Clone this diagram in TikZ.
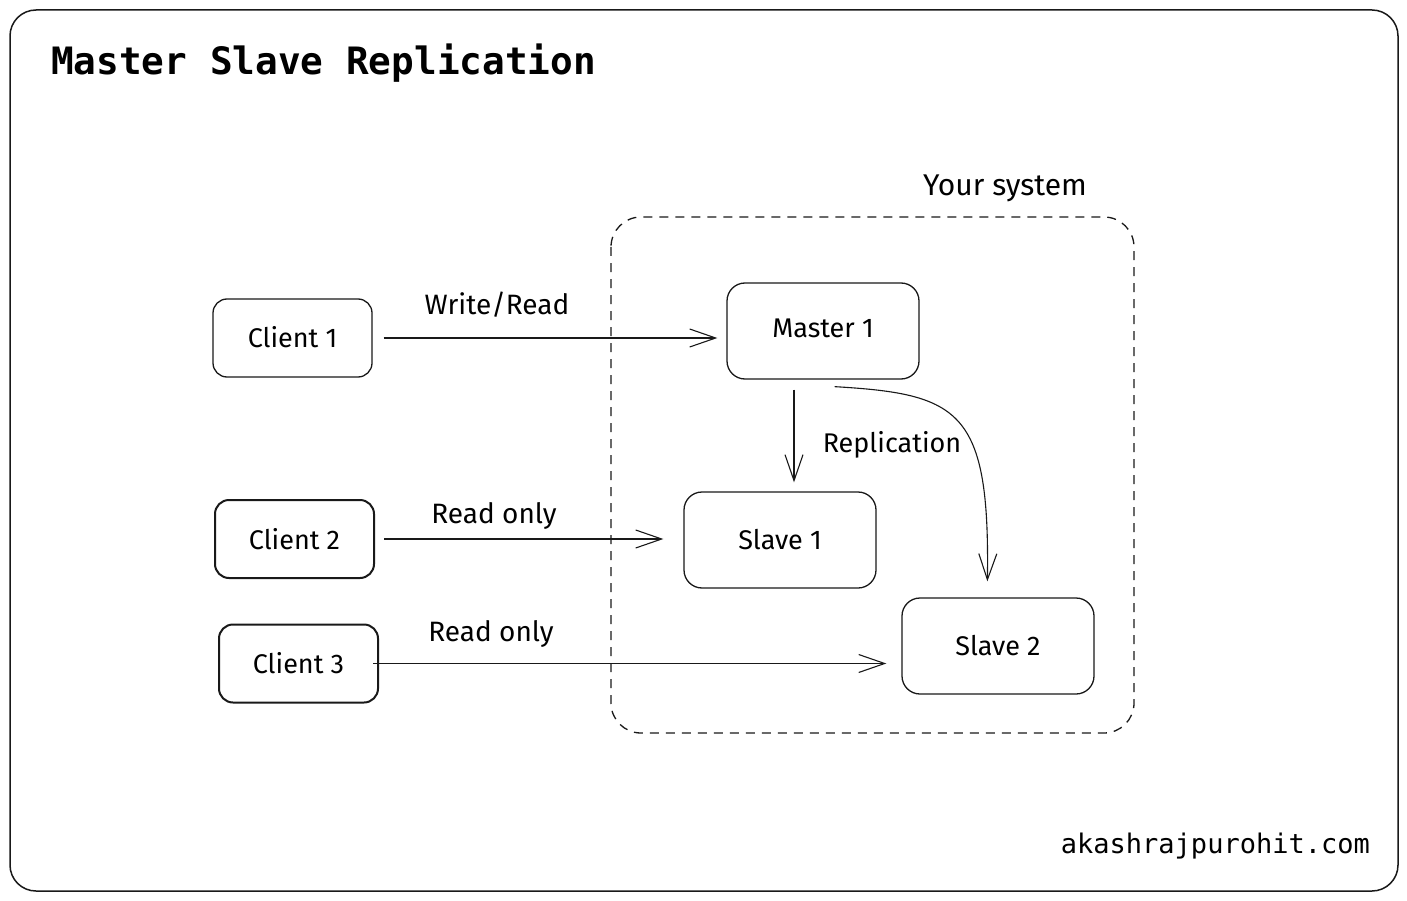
\documentclass[tikz,border=0pt]{standalone}
\usepackage{fontspec}
\setmainfont{Fira Sans}
\newfontfamily\monofont{DejaVu Sans Mono}
\usetikzlibrary{arrows.meta,calc}
\begin{document}
\begin{tikzpicture}[x=1pt,y=-1pt,
  ink/.style={draw=black!90, line width=1.3pt},
  box/.style={ink, rounded corners=14pt, minimum width=159pt, minimum height=78pt,
    inner sep=0pt, font=\fontsize{27}{30}\selectfont},
  thickbox/.style={box, line width=2pt},
  bigbox/.style={box, minimum width=192pt, minimum height=96pt, rounded corners=18pt},
  arr/.style={draw=black!90, line width=1.1pt,
    -{Straight Barb[length=26pt,width=18pt,line width=1.1pt]}},
  lbl/.style={font=\fontsize{28}{30}\selectfont, inner sep=0pt},
]
\useasboundingbox (0,0) rectangle (1407,901);

% outer frame and title
\draw[ink, line width=1.5pt, rounded corners=26pt] (10,10) rectangle (1398,891);
\node[anchor=base west, inner sep=0pt, font=\monofont\bfseries\fontsize{37.7}{40}\selectfont]
  (title) at (51,75) {Master Slave Replication};
\node[anchor=base east, inner sep=0pt, font=\monofont\fontsize{27}{30}\selectfont]
  (site) at (1370,853) {akashrajpurohit.com};

% system boundary
\draw[ink, dash pattern=on 9pt off 7pt, rounded corners=30pt] (611,217) rectangle (1134,733);
\node[lbl, font=\fontsize{30}{32}\selectfont] (sys) at (1005,188) {Your system};

% clients
\node[box] (c1) at (292.5,338) {\raisebox{2pt}{Client 1}};
\node[thickbox] (c2) at (294.5,539) {Client 2};
\node[thickbox] (c3) at (298.5,663.5) {Client 3};

% servers
\node[bigbox] (m1) at (823,331) {\raisebox{5pt}{Master 1}};
\node[bigbox] (s1) at (780,540) {\raisebox{2pt}{Slave 1}};
\node[bigbox] (s2) at (998,646) {\raisebox{2pt}{Slave 2}};

% client traffic
\draw[arr, shorten <=11pt, shorten >=9pt] (c1.east) -- (c1.east -| m1.west);
\node[lbl] (wr) at (497,305) {Write/Read};
\draw[arr, shorten <=9pt, shorten >=20pt] (c2.east) -- (c2.east -| s1.west);
\node[lbl] (ro1) at (494,516) {Read only};
\draw[arr, shorten <=-6pt, shorten >=15pt] (c3.east) -- (c3.east -| s2.west);
\node[lbl] (ro2) at (491,634) {Read only};

% replication
\coordinate (r1) at ($(m1.south west)!0.35!(m1.south east)$);
\draw[arr, shorten <=10pt, shorten >=9pt] (r1) -- (r1 |- s1.north);
\coordinate (r2a) at ($(m1.south west)!0.56!(m1.south east)+(0,7)$);
\coordinate (r2b) at ($(s2.north west)!0.445!(s2.north east)+(0,-16)$);
\draw[arr] (r2a) .. controls (960,394) and (990,410) .. (r2b);
\node[lbl, font=\fontsize{27}{30}\selectfont] (rep) at (892,445) {Replication};
\end{tikzpicture}
\end{document}
